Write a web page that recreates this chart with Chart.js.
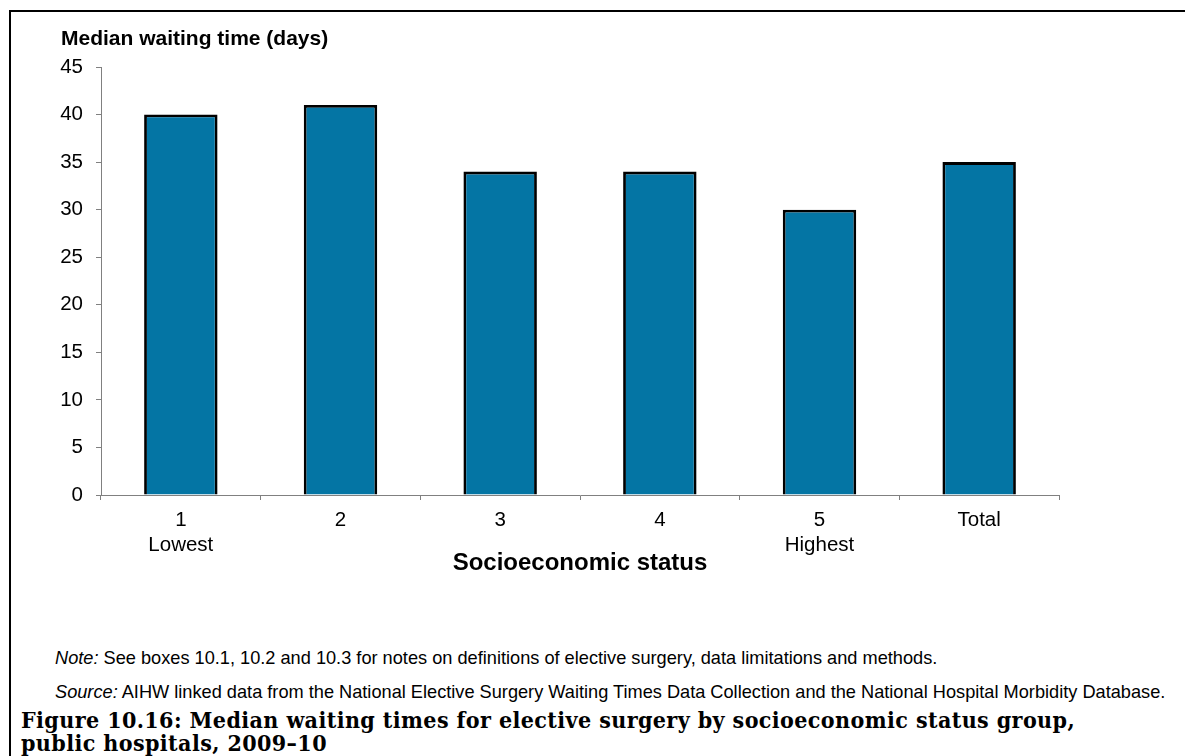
<!DOCTYPE html>
<html>
<head>
<meta charset="utf-8">
<script src="https://cdn.jsdelivr.net/npm/chart.js@4"></script>
<style>
  html, body { margin: 0; padding: 0; background: #fff; }
  body { width: 1185px; height: 756px; position: relative; overflow: hidden; font-family: "Liberation Sans", Arial, sans-serif; color: #000; }
  .frame { position: absolute; left: 9px; top: 10px; width: 1300px; height: 900px; border-top: 2px solid #000; border-left: 2px solid #000; }
  #wrap { position: absolute; left: 0; top: 0; width: 1185px; height: 600px; }
  .note { position: absolute; left: 55px; font-size: 18.2px; line-height: 20px; white-space: nowrap; }
  .fig { position: absolute; left: 21px; font-family: "DejaVu Serif", "Liberation Serif", serif; font-stretch: condensed; font-weight: bold; font-size: 23px; line-height: 23px; white-space: nowrap; }
</style>
</head>
<body>
<div class="frame"></div>
<div id="wrap"><canvas id="c" width="1185" height="600"></canvas></div>
<div class="note" style="top:648px"><i>Note:</i> See boxes 10.1, 10.2 and 10.3 for notes on definitions of elective surgery, data limitations and methods.</div>
<div class="note" style="top:682px"><i>Source:</i> AIHW linked data from the National Elective Surgery Waiting Times Data Collection and the National Hospital Morbidity Database.</div>
<div class="fig" id="fig" style="top:708px"><span id="figLine1">Figure 10.16: Median waiting times for elective surgery by socioeconomic status group,</span><br>public hospitals, 2009–10</div>
<script>
// Socioeconomic status quintiles and the overall figure
const categories = [["1", "Lowest"], "2", "3", "4", ["5", "Highest"], "Total"];
// Median waiting time in days
const medianDays = [40, 41, 34, 34, 30, 35];
// Value axis
const yMin = 0;
const yMax = 45;
const yStep = 5;

const axisGrey = '#808080';
const sans = '"Liberation Sans", Arial, sans-serif';

// Track the caption so its first line ends at the page's right text edge
(function fitCaption() {
  const fig = document.getElementById('fig');
  const line1 = document.getElementById('figLine1');
  const target = 1054;
  const w = line1.getBoundingClientRect().width;
  const chars = line1.textContent.length;
  if (w > 0) fig.style.letterSpacing = ((target - w) / chars).toFixed(3) + 'px';
})();

const yTitlePlugin = {
  id: 'yTitle',
  afterDraw(chart) {
    const ctx = chart.ctx;
    ctx.save();
    ctx.font = 'bold 21px ' + sans;
    ctx.fillStyle = '#000';
    ctx.textAlign = 'left';
    ctx.textBaseline = 'middle';
    ctx.fillText('Median waiting time (days)', 61, 39);
    ctx.restore();
  }
};

new Chart(document.getElementById('c'), {
  type: 'bar',
  data: {
    labels: categories,
    datasets: [{
      data: medianDays,
      backgroundColor: '#0475A4',
      borderColor: '#000',
      borderWidth: 2.8,
      categoryPercentage: 1,
      barPercentage: 0.46
    }]
  },
  options: {
    responsive: false,
    animation: false,
    layout: { padding: { top: 67, right: 126, left: 0, bottom: 0 } },
    plugins: { legend: { display: false }, tooltip: { enabled: false } },
    scales: {
      x: {
        grid: { display: true, drawOnChartArea: false, drawTicks: true, tickLength: 5, color: axisGrey, offset: true },
        border: { display: true, color: axisGrey, width: 1 },
        ticks: { color: '#000', font: { family: sans, size: 20.5, lineHeight: 1.2 }, padding: 8, maxRotation: 0 },
        title: { display: true, text: 'Socioeconomic status', color: '#000', font: { family: sans, size: 24, weight: 'bold', lineHeight: 1.2 }, padding: { top: 0, bottom: 22.6 } },
        afterFit(scale) { scale.height = 105; }
      },
      y: {
        min: yMin, max: yMax,
        ticks: { stepSize: yStep, color: '#000', font: { family: sans, size: 20.5 }, padding: 13 },
        grid: { display: true, drawOnChartArea: false, drawTicks: true, tickLength: 5, color: axisGrey },
        border: { display: true, color: axisGrey, width: 1 },
        afterFit(scale) { scale.width = 101; }
      }
    }
  },
  plugins: [yTitlePlugin]
});
</script>
</body>
</html>
